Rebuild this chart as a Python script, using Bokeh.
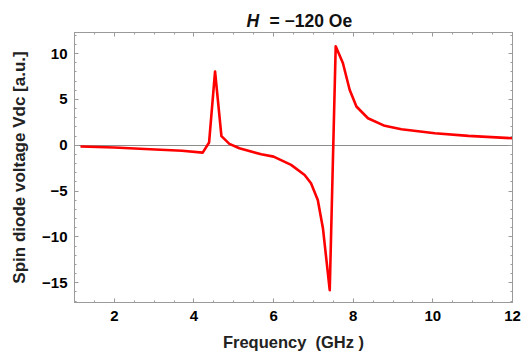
from bokeh.plotting import figure
from bokeh.models import Range1d, LinearAxis, FixedTicker
from bokeh.layouts import column
from bokeh.core.properties import value
from bokeh.embed import file_html
from bokeh.resources import INLINE

freq = [1.15, 2.0, 2.9, 3.7, 4.22, 4.38, 4.53, 4.69, 4.89, 5.14, 5.69, 6.0, 6.44,
        6.78, 6.94, 7.11, 7.24, 7.41, 7.56, 7.74, 7.91, 8.08, 8.37, 8.79, 9.21,
        10.05, 10.89, 12.0]
vdc = [-0.14, -0.25, -0.43, -0.6, -0.8, 0.3, 8.05, 1.0, 0.15, -0.33, -0.98, -1.24,
       -2.14, -3.24, -4.15, -5.97, -9.07, -15.8, 10.8, 8.97, 6.05, 4.23, 2.95, 2.12,
       1.75, 1.31, 1.02, 0.77]

x_ticks = [2, 4, 6, 8, 10, 12]
y_ticks = [-15, -10, -5, 0, 5, 10]
zero_line = [0]
title_parts = ["H", "= \u2212120 Oe"]
title_styles = ["bold italic", "bold"]

FONT = "Liberation Sans"
GRAY = "#9a9a9a"

# title strip (mixed italic / bold text)
tf = figure(width=522, height=30, output_backend="svg", toolbar_location=None,
            x_range=Range1d(74, 512), y_range=Range1d(0, 30),
            min_border_left=74, min_border_right=10, min_border_top=0,
            min_border_bottom=0, x_axis_location=None, y_axis_location=None)
tf.xgrid.visible = False
tf.ygrid.visible = False
tf.outline_line_color = None
tf.border_fill_color = "white"
tf.background_fill_color = "white"
title_x = [246, 269]
for tx, part, st in zip(title_x, title_parts, title_styles):
    tf.text(x=[tx], y=[10], text=[part], text_font=value(FONT),
            text_font_style=st, text_font_size="17.5px", text_baseline="middle",
            text_align="left", text_color="#111111")

p = figure(width=522, height=328, output_backend="svg", toolbar_location=None,
           x_range=Range1d(1.0, 12.0), y_range=Range1d(-17.15, 12.3),
           min_border_left=74, min_border_right=10, min_border_top=2,
           min_border_bottom=56, x_axis_location=None, y_axis_location=None)
p.xgrid.visible = False
p.ygrid.visible = False
p.outline_line_color = GRAY
p.outline_line_width = 1
p.background_fill_color = "white"
p.border_fill_color = "white"

def style(ax, labels=True):
    ax.axis_line_color = GRAY
    ax.major_tick_line_color = GRAY
    ax.minor_tick_line_color = GRAY
    ax.major_tick_in = 4
    ax.major_tick_out = 0
    ax.minor_tick_in = 2
    ax.minor_tick_out = 0
    ax.major_label_text_font = FONT
    ax.major_label_text_font_style = "bold"
    ax.major_label_text_font_size = "15px"
    ax.major_label_text_color = "black"
    ax.axis_label_text_font = FONT
    ax.axis_label_text_font_style = "bold"
    ax.axis_label_text_font_size = "16.5px"
    ax.axis_label_text_color = "#222222"
    if not labels:
        ax.major_label_text_font_size = "0px"
        ax.major_label_text_color = None
        ax.major_label_standoff = 0

xt = FixedTicker(ticks=x_ticks, minor_ticks=[1.0 + 0.5 * i for i in range(23)])
yt = FixedTicker(ticks=y_ticks, minor_ticks=list(range(-17, 13)))

xb = LinearAxis(ticker=xt, axis_label="Frequency\u00a0 (GHz )")
style(xb)
xb.major_label_standoff = 8
xb.axis_label_standoff = 9
p.add_layout(xb, "below")

yl = LinearAxis(ticker=yt, axis_label="Spin diode voltage Vdc [a.u.]")
style(yl)
yl.axis_label_text_font_size = "17px"
yl.major_label_standoff = 7
yl.axis_label_standoff = 10
p.add_layout(yl, "left")

xa = LinearAxis(ticker=xt)
style(xa, labels=False)
p.add_layout(xa, "above")
yr = LinearAxis(ticker=yt)
style(yr, labels=False)
p.add_layout(yr, "right")

p.hspan(y=zero_line, line_color="#8c8c8c", line_width=1)

p.line(freq, vdc, line_color="#ff0000", line_width=2.6, line_join="round")

layout = column(tf, p, spacing=0)
open("out.html", "w").write(file_html(layout, INLINE))
